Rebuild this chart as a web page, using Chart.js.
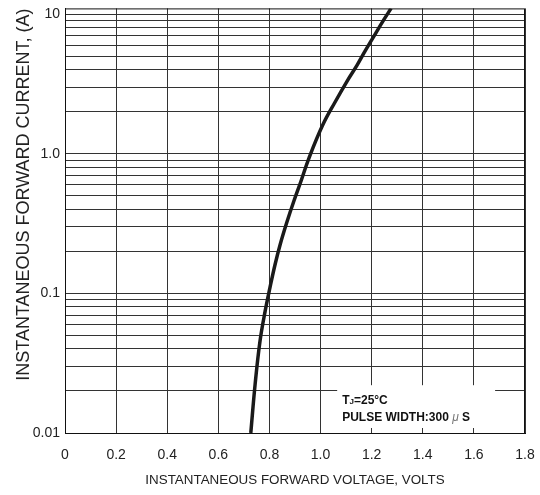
<!DOCTYPE html>
<html>
<head>
<meta charset="utf-8">
<script src="https://cdn.jsdelivr.net/npm/chart.js@4"></script>
<style>
  html, body { margin: 0; padding: 0; background: #fff; }
  #wrap { width: 540px; height: 495px; }
</style>
</head>
<body>
<div id="wrap"><canvas id="graficoVf"></canvas></div>
<script>
// ======== DADOS =========
const voltage = [0.727, 0.744, 0.763, 0.783, 0.802, 0.822, 0.842, 0.869, 0.896, 0.924, 0.955,
  1.008, 1.057, 1.104, 1.143, 1.174, 1.202, 1.249, 1.276];
const current = [0.0100, 0.0224, 0.0454, 0.0743, 0.110, 0.161, 0.224, 0.327, 0.461, 0.641, 0.936,
  1.60, 2.35, 3.32, 4.32, 5.44, 6.63, 9.21, 11.0];

const yTickValues = [0.01, 0.02, 0.03, 0.04, 0.05, 0.06, 0.07, 0.08, 0.09,
  0.1, 0.2, 0.3, 0.4, 0.5, 0.6, 0.7, 0.8, 0.9,
  1, 2, 3, 4, 5, 6, 7, 8, 9, 10];
const yTickLabels = { 0.01: '0.01', 0.1: '0.1', 1: '1.0', 10: '10' };

const noteLine1 = ['T', 'J', '=25°C'];
const noteLine2 = ['PULSE WIDTH:300 ', 'μ', ' S'];

const fonte = '"Liberation Sans", Arial, sans-serif';

// ======== MOLDURA + NOTA =========
const moldura = {
  id: 'moldura',
  afterDraw(chart) {
    const { ctx, chartArea: a, scales } = chart;
    ctx.save();
    // caixa branca da nota
    const x0 = scales.x.getPixelForValue(1.065);
    const x1 = scales.x.getPixelForValue(1.683);
    const yTop = scales.y.getPixelForValue(0.022);
    const yBot = a.bottom - 5;
    ctx.fillStyle = '#fff';
    ctx.fillRect(x0, yTop, x1 - x0, yBot - yTop);

    ctx.fillStyle = '#111';
    ctx.textBaseline = 'alphabetic';
    let x = x0 + 5;
    ctx.font = 'bold 12px ' + fonte;
    ctx.fillText(noteLine1[0], x, yTop + 19);
    x += ctx.measureText(noteLine1[0]).width;
    ctx.font = 'bold 8px ' + fonte;
    ctx.fillText(noteLine1[1], x, yTop + 19);
    x += ctx.measureText(noteLine1[1]).width;
    ctx.font = 'bold 12px ' + fonte;
    ctx.fillText(noteLine1[2], x, yTop + 19);

    x = x0 + 5;
    ctx.fillText(noteLine2[0], x, yTop + 36);
    x += ctx.measureText(noteLine2[0]).width;
    ctx.font = 'italic 12px ' + fonte;
    ctx.fillStyle = '#777';
    ctx.fillText(noteLine2[1], x, yTop + 36);
    x += ctx.measureText(noteLine2[1]).width;
    ctx.font = 'bold 12px ' + fonte;
    ctx.fillStyle = '#111';
    ctx.fillText(noteLine2[2], x, yTop + 36);

    // moldura
    ctx.strokeStyle = '#111';
    ctx.lineWidth = 1;
    ctx.strokeRect(a.left + 0.5, a.top + 0.5, a.right - a.left - 1, a.bottom - a.top);
    ctx.restore();
  }
};

// ======== GRÁFICO =========
const ctx = document.getElementById('graficoVf');
new Chart(ctx, {
  type: 'line',
  data: {
    datasets: [{
      data: voltage.map((v, i) => ({ x: v, y: current[i] })),
      borderColor: '#1a1a1a',
      borderWidth: 3.5,
      pointRadius: 0,
      tension: 0.4,
      fill: false
    }]
  },
  options: {
    responsive: true,
    maintainAspectRatio: false,
    animation: false,
    layout: { padding: { left: 0, right: 15, top: 7, bottom: 0 } },
    plugins: {
      legend: { display: false },
      tooltip: { enabled: false }
    },
    scales: {
      x: {
        type: 'linear',
        min: 0,
        max: 1.8,
        grid: { color: '#333', lineWidth: 1, drawTicks: true, tickLength: 13, tickColor: 'rgba(0,0,0,0)' },
        border: { color: '#111' },
        ticks: {
          stepSize: 0.2,
          padding: 1,
          color: '#222',
          font: { family: fonte, size: 14 },
          callback: v => Math.abs(v) < 1e-9 ? '0' : v.toFixed(1)
        },
        title: {
          display: true,
          text: 'INSTANTANEOUS FORWARD VOLTAGE, VOLTS',
          color: '#222',
          font: { family: fonte, size: 13.4 },
          padding: { top: 4, bottom: 7 }
        },
        afterFit: s => { s.height = 62; }
      },
      y: {
        type: 'logarithmic',
        min: 0.01,
        max: 11,
        afterBuildTicks: s => { s.ticks = yTickValues.map(v => ({ value: v })); },
        grid: { color: '#333', lineWidth: 1, drawTicks: true, tickLength: 5, tickColor: 'rgba(0,0,0,0)' },
        border: { color: '#111' },
        ticks: {
          autoSkip: false,
          padding: 0,
          color: '#222',
          font: { family: fonte, size: 14 },
          callback: v => yTickLabels[v] || ''
        },
        title: {
          display: true,
          text: 'INSTANTANEOUS FORWARD CURRENT, (A)',
          align: 'end',
          color: '#222',
          font: { family: fonte, size: 18 },
          padding: { top: 13, bottom: 4 }
        },
        afterFit: s => { s.width = 65; }
      }
    }
  },
  plugins: [moldura]
});
</script>
</body>
</html>
